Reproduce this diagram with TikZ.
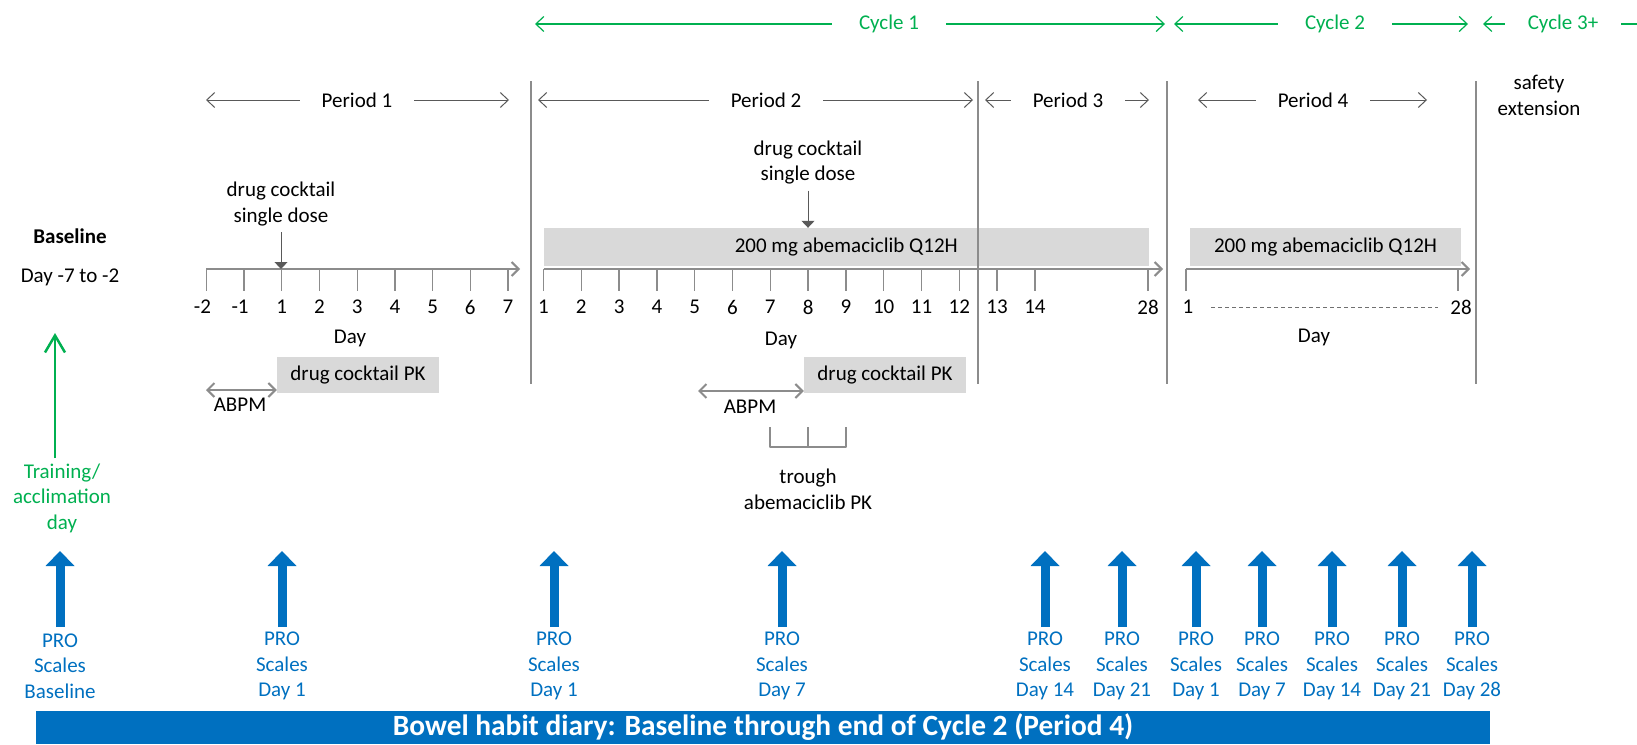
\documentclass[tikz,border=0pt]{standalone}
\usepackage{fontspec}
\setmainfont{Carlito}
\usetikzlibrary{arrows.meta}
\definecolor{cyclegreen}{HTML}{00B050}
\definecolor{problue}{HTML}{0070C0}
\definecolor{barfill}{HTML}{D9D9D9}
\definecolor{axisgray}{HTML}{8C8C8C}
\definecolor{pergray}{HTML}{595959}
\begin{document}
\begin{tikzpicture}[x=1pt,y=-1pt,line join=round,
  txt/.style={font=\fontsize{21}{25.6}\selectfont,inner sep=0pt,align=center},
  per/.style={draw=pergray,line width=1pt,-{Straight Barb[length=8pt,width=15pt]}},
  cyc/.style={draw=cyclegreen,line width=1.2pt,-{Straight Barb[length=8pt,width=15pt]}},
  perlbl/.style={txt,inner xsep=22pt},
  cyclbl/.style={txt,text=cyclegreen,inner xsep=27pt},
  sep/.style={draw=axisgray,line width=1.5pt},
  axis/.style={draw=axisgray,line width=2pt,-{Straight Barb[length=7pt,width=14pt]}},
  tick/.style={draw=axisgray,line width=1.3pt},
  drugbar/.style={txt,fill=barfill,minimum height=38pt},
  pkbox/.style={txt,fill=barfill,minimum width=162pt,minimum height=36pt},
  dose/.style={draw=pergray,line width=1pt,-{Triangle[length=7pt,width=13pt]}},
  abpm/.style={draw=axisgray,line width=2pt,{Straight Barb[length=7pt,width=14pt]}-{Straight Barb[length=7pt,width=14pt]}},
  proarr/.style={draw=problue,line width=9pt,-{Triangle[length=15pt,width=29pt,line width=0pt]}},
  protxt/.style={txt,text=problue}]
\useasboundingbox (0,0) rectangle (1637,744);

% cycles
\node[cyclbl] (cy1) at (889,24) {Cycle 1};
\node[cyclbl] (cy2) at (1335,24) {Cycle 2};
\node[cyclbl,inner xsep=23pt] (cy3) at (1563,24) {Cycle 3+};
\coordinate (cy1l) at (535,24); \coordinate (cy1r) at (1165,24);
\coordinate (cy2l) at (1174,24); \coordinate (cy2r) at (1468,24);
\coordinate (cy3l) at (1483,24); \coordinate (cy3r) at (1637,24);
\draw[cyc] (cy1.west) -- (cy1l); \draw[cyc] (cy1.east) -- (cy1r);
\draw[cyc] (cy2.west) -- (cy2l); \draw[cyc] (cy2.east) -- (cy2r);
\draw[cyc] (cy3.west) -- (cy3l); \draw[cyc,-] (cy3.east) -- (cy3r);

% periods
\node[perlbl] (p1) at (357,100) {Period 1};
\node[perlbl] (p2) at (766,100) {Period 2};
\node[perlbl] (p3) at (1068,100) {Period 3};
\node[perlbl] (p4) at (1313,100) {Period 4};
\coordinate (p1l) at (206,100); \coordinate (p1r) at (509,100);
\coordinate (p2l) at (538,100); \coordinate (p2r) at (973,100);
\coordinate (p3l) at (985,100); \coordinate (p3r) at (1149,100);
\coordinate (p4l) at (1198,100); \coordinate (p4r) at (1427,100);
\foreach \p in {p1,p2,p3,p4}{
  \draw[per] (\p.west) -- (\p l);
  \draw[per] (\p.east) -- (\p r);
}
\node[txt] (safe) at (1539,95.5) {safety\\extension};

% baseline
\node[txt,font=\bfseries\fontsize{21}{25.6}\selectfont] (base) at (70,236) {Baseline};
\node[txt] (basedays) at (70,277) {Day -7 to -2};
\node[txt,text=cyclegreen] (train) at (62,498) {Training/\\acclimation\\day};
\coordinate (tr0) at (55,458); \coordinate (tr1) at (55,333);
\draw[draw=cyclegreen,line width=2.5pt,-{Straight Barb[length=17pt,width=20pt]}] (tr0) -- (tr1);

% dosing bars
\node[drugbar,minimum width=605.5pt] (bar1) at (846.25,247) {200 mg abemaciclib Q12H};
\node[drugbar,minimum width=271pt] (bar2) at (1325.5,247) {200 mg abemaciclib Q12H};

% day axes
\coordinate (ax1s) at (206.4,269); \coordinate (ax1e) at (520,269);
\coordinate (ax2s) at (543.5,269); \coordinate (ax2e) at (1163,269);
\coordinate (ax3s) at (1186,269); \coordinate (ax3e) at (1470,269);
\draw[axis] (ax1s) -- (ax1e);
\draw[axis] (ax2s) -- (ax2e);
\draw[axis] (ax3s) -- (ax3e);
\foreach \d/\s [count=\i from 0] in {-2/-4,-1/-4,1/0,2/0,3/0,4/0,5/0,6/0,7/0}{
  \draw[tick] (206.4+37.7*\i,269) -- ++(0,22);
  \node[txt] (aa\i) at (206.4+37.7*\i+\s,307) {\d};
}
\foreach \d in {1,...,14}{
  \draw[tick] (505.7+37.8*\d,269) -- ++(0,22);
  \node[txt] (ab\d) at (505.7+37.8*\d,307) {\d};
}
\draw[tick] (1148,269) -- ++(0,22);
\node[txt] (ab28) at (1148,307) {28};
\draw[tick] (1186,269) -- ++(0,22);
\draw[tick] (1458,269) -- ++(0,22);
\node[txt] (ac1) at (1188,307) {1};
\node[txt] (ac28) at (1461,307) {28};
\coordinate (dash0) at (1211,307); \coordinate (dash1) at (1438,307);
\draw[axisgray!80!black,line width=1pt,dash pattern=on 4pt off 3pt] (dash0) -- (dash1);
\node[txt] (day1) at (350,338) {Day};
\node[txt] (day2) at (781,340) {Day};
\node[txt] (day3) at (1314,337) {Day};

% single doses
\node[txt] (dc1) at (281,204) {drug cocktail\\single dose};
\node[txt] (dc2) at (808,162.5) {drug cocktail\\single dose};
\coordinate (dose1) at (281,269);
\draw[dose] (dc1.south) ++(0,6) -- (dose1);
\draw[dose] (dc2.south) ++(0,6) -- (dc2.south |- bar1.north);

% PK and ABPM
\node[pkbox] (pk1) at (358,375) {drug cocktail PK};
\node[pkbox] (pk2) at (885,375) {drug cocktail PK};
\coordinate (abpm1l) at (206,390); \coordinate (abpm2l) at (698,391);
\draw[abpm] (abpm1l) -- (abpm1l -| pk1.west);
\draw[abpm] (abpm2l) -- (abpm2l -| pk2.west);
\node[txt] (abpm1) at (240,405) {ABPM};
\node[txt] (abpm2) at (750,407) {ABPM};
\coordinate (trl) at (770,427); \coordinate (trm) at (808,427); \coordinate (trr) at (846,427);
\draw[axisgray,line width=1.2pt] (trl) -- ++(0,20) -| (trr);
\draw[axisgray,line width=1.2pt] (trm) -- ++(0,20);
\node[txt] (trough) at (808,489.5) {trough\\abemaciclib PK};

% period separators
\foreach \x [count=\i] in {531,978,1167,1476}{
  \coordinate (sep\i t) at (\x,81);
  \coordinate (sep\i b) at (\x,384);
  \draw[sep] (sep\i t) -- (sep\i b);
}

% PRO scales
\foreach \x/\d [count=\i] in {60/Baseline,282/Day 1,554/Day 1,782/Day 7,1045/Day 14,
  1122/Day 21,1196/Day 1,1262/Day 7,1332/Day 14,1402/Day 21,1472/Day 28}{
  \coordinate (prob\i) at (\x,627);
  \coordinate (prot\i) at (\x,551);
  \draw[proarr] (prob\i) -- (prot\i);
  \node[protxt] (pro\i) at (\x,666) {PRO\\Scales\\\d};
}

\node[fill=problue,text=white,font=\bfseries\fontsize{29.4}{31}\selectfont,
  minimum width=1453.5pt,minimum height=33pt,inner sep=0pt] (diary) at (763,727.5)
  {Bowel habit diary: Baseline through end of Cycle 2 (Period 4)};
\end{tikzpicture}
\end{document}
